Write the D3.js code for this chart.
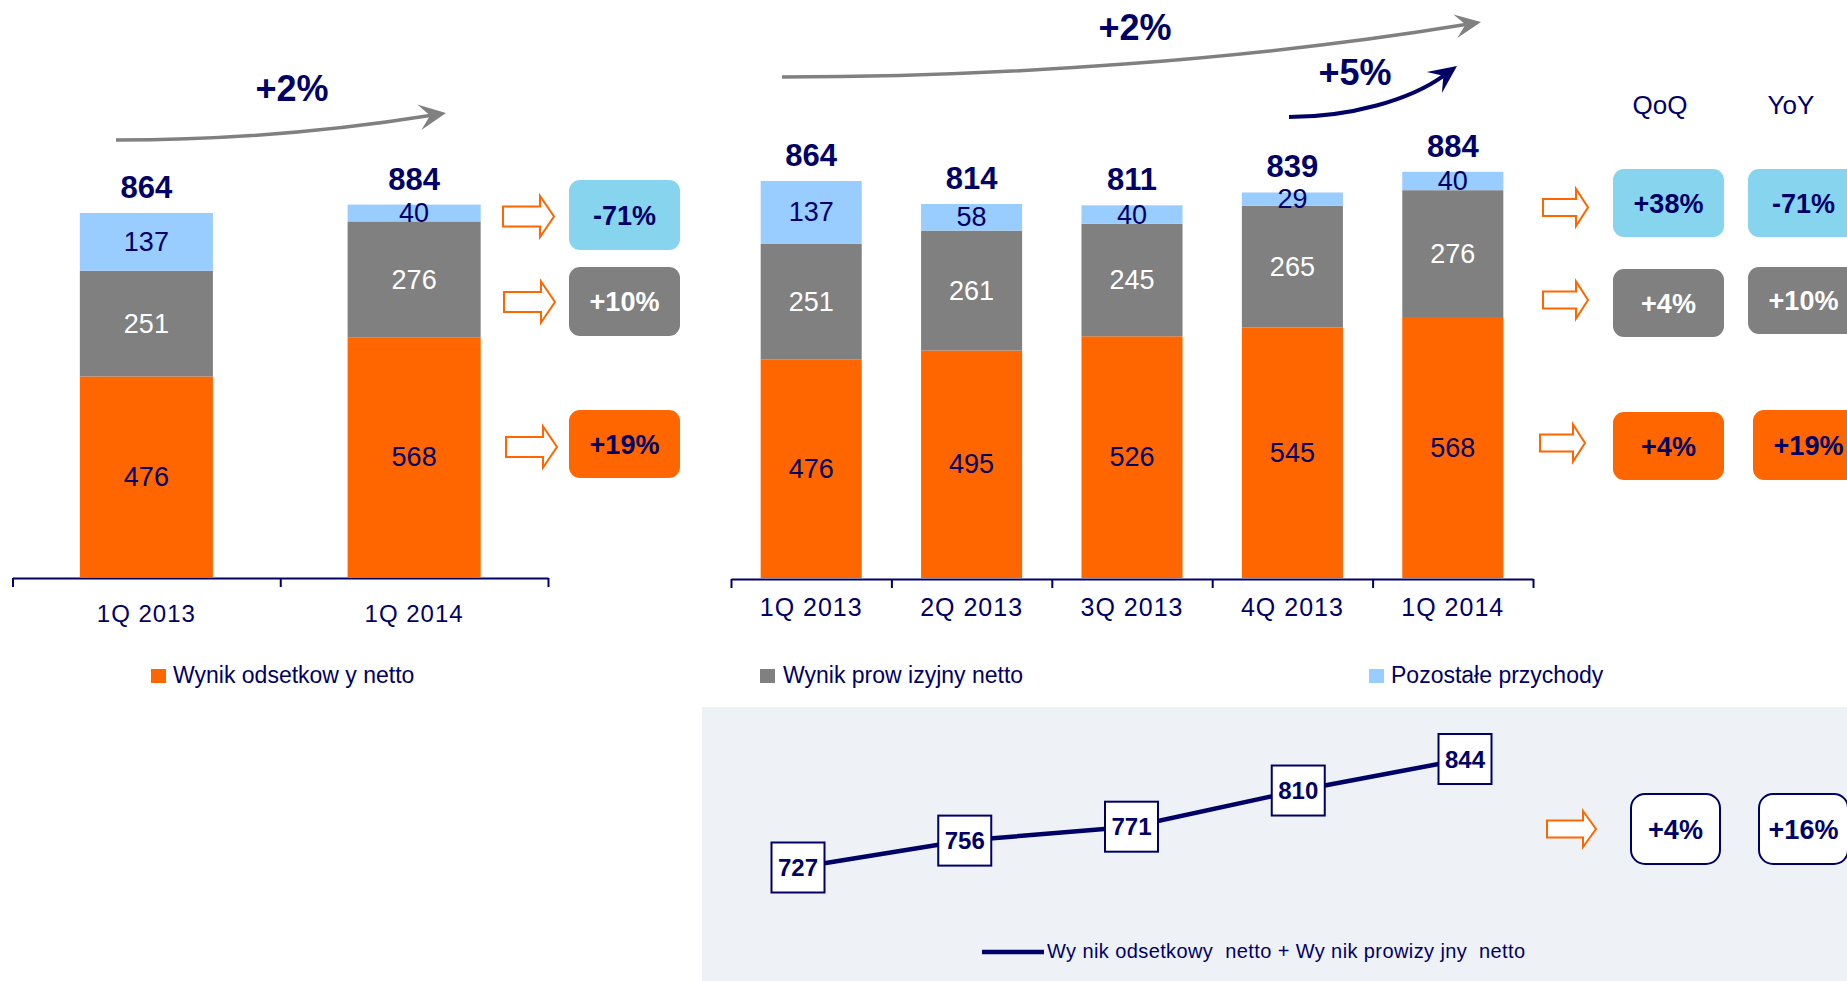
<!DOCTYPE html>
<html>
<head>
<meta charset="utf-8">
<script src="https://cdn.jsdelivr.net/npm/d3@7"></script>
<style>
  html, body { margin: 0; padding: 0; background: #fff; }
  svg { display: block; font-family: "Liberation Sans", Arial, sans-serif; }
</style>
</head>
<body>
<div id="chart"></div>
<script>
// --- dane (mln zł) ---
const yearCats = ["1Q 2013", "1Q 2014"];
const yearNii = [476, 568];
const yearFee = [251, 276];
const yearOther = [137, 40];
const yearGrowth = "+2%";
const yearYoY = ["-71%", "+10%", "+19%"]; // pozostałe, prowizje, odsetki

const quarters = ["1Q 2013", "2Q 2013", "3Q 2013", "4Q 2013", "1Q 2014"];
const qNii = [476, 495, 526, 545, 568];
const qFee = [251, 261, 245, 265, 276];
const qOther = [137, 58, 40, 29, 40];
const qGrowthYoY = "+2%";
const qGrowthQoQ = "+5%";
const changeHeads = ["QoQ", "YoY"];
const qoq = ["+38%", "+4%", "+4%"];
const yoy = ["-71%", "+10%", "+19%"];

const coreIncome = [727, 756, 771, 810, 844];
const coreChange = ["+4%", "+16%"];

const seriesNames = ["Wynik odsetkow y netto", "Wynik prow izyjny netto", "Pozostałe przychody"];
const lineName = "Wy nik odsetkowy  netto + Wy nik prowizy jny  netto";

// --- kolory ---
const NAVY = "#000066";
const ORANGE = "#FF6600";
const GRAY = "#808080";
const LIGHT = "#99CCFF";
const CYAN = "#87D4EE";
const PANEL = "#EEF2F6";

const keys = ["nii", "fee", "other"];
const segFill = { nii: ORANGE, fee: GRAY, other: LIGHT };
const segText = { nii: NAVY, fee: "#fff", other: NAVY };

const W = 1847, H = 981;
const svg = d3.select("#chart").append("svg")
  .attr("width", W)
  .attr("height", H)
  .attr("viewBox", [0, 0, W, H]);

// panel pod wykresem liniowym
svg.append("rect")
  .attr("x", 702).attr("y", 707)
  .attr("width", W - 702).attr("height", H - 707)
  .attr("fill", PANEL);

/**
 * Słupki skumulowane z osią kategorii
 */
function drawStack(cats, nii, fee, other, o) {
  const rows = cats.map((c, i) => ({ cat: c, nii: nii[i], fee: fee[i], other: other[i] }));
  const stacked = d3.stack().keys(keys)(rows);

  const x = d3.scaleBand().domain(cats).range(o.xRange);
  const y = d3.scaleLinear().domain([0, 1000]).range([o.base, o.base - o.pxPerUnit * 1000]);
  const bw = x.bandwidth() * o.barRatio;
  const bx = d => x(d.data.cat) + (x.bandwidth() - bw) / 2;

  const g = svg.append("g");

  g.selectAll("g.layer")
    .data(stacked)
    .join("g")
    .attr("fill", s => segFill[s.key])
    .selectAll("rect")
    .data(s => s)
    .join("rect")
    .attr("x", bx)
    .attr("width", bw)
    .attr("y", d => y(d[1]))
    .attr("height", d => y(d[0]) - y(d[1]));

  // etykiety segmentów
  stacked.forEach(s => {
    g.selectAll(null)
      .data(s)
      .join("text")
      .attr("x", d => x(d.data.cat) + x.bandwidth() / 2)
      .attr("y", d => (y(d[0]) + y(d[1])) / 2 + 9)
      .attr("text-anchor", "middle")
      .attr("font-size", 27)
      .attr("fill", segText[s.key])
      .text(d => d.data[s.key]);
  });

  // sumy
  g.selectAll(null)
    .data(rows)
    .join("text")
    .attr("x", d => x(d.cat) + x.bandwidth() / 2)
    .attr("y", d => y(d.nii + d.fee + d.other) - 15)
    .attr("text-anchor", "middle")
    .attr("font-size", 31)
    .attr("font-weight", "bold")
    .attr("fill", NAVY)
    .text(d => d.nii + d.fee + d.other);

  // oś z kreskami na granicach kategorii
  const xi = d3.scaleLinear().domain([0, cats.length]).range(o.xRange);
  const ax = g.append("g")
    .attr("transform", `translate(0,${o.base + 1})`)
    .call(d3.axisBottom(xi).tickValues(d3.range(cats.length + 1)).tickSize(9).tickSizeOuter(0).tickFormat(""));
  ax.selectAll("path, line").attr("stroke", NAVY).attr("stroke-width", 2);

  g.selectAll(null)
    .data(cats)
    .join("text")
    .attr("x", c => x(c) + x.bandwidth() / 2)
    .attr("y", o.labelY)
    .attr("text-anchor", "middle")
    .attr("font-size", o.catSize)
    .attr("letter-spacing", 1)
    .attr("fill", NAVY)
    .text(c => c);

  return { x, y };
}

drawStack(yearCats, yearNii, yearFee, yearOther, {
  xRange: [12.5, 548], base: 577, pxPerUnit: 0.4213, barRatio: 0.497, labelY: 622, catSize: 24
});
drawStack(quarters, qNii, qFee, qOther, {
  xRange: [731, 1533], base: 578, pxPerUnit: 0.4595, barRatio: 0.63, labelY: 616, catSize: 25
});

// --- strzałki zakrzywione ---
function curvedArrow(p0, c1, c2, p1, color, width, headLen, half) {
  const dx = p1[0] - c2[0], dy = p1[1] - c2[1];
  const l = Math.hypot(dx, dy);
  const ux = dx / l, uy = dy / l, nx = -uy, ny = ux;
  const notch = [p1[0] - ux * headLen * 0.6, p1[1] - uy * headLen * 0.6];
  const back = [p1[0] - ux * headLen, p1[1] - uy * headLen];

  const p = d3.path();
  p.moveTo(p0[0], p0[1]);
  p.bezierCurveTo(c1[0], c1[1], c2[0], c2[1], notch[0], notch[1]);
  svg.append("path")
    .attr("d", p.toString())
    .attr("fill", "none")
    .attr("stroke", color)
    .attr("stroke-width", width);

  const h = d3.path();
  h.moveTo(p1[0], p1[1]);
  h.lineTo(back[0] + nx * half, back[1] + ny * half);
  h.lineTo(notch[0], notch[1]);
  h.lineTo(back[0] - nx * half, back[1] - ny * half);
  h.closePath();
  svg.append("path").attr("d", h.toString()).attr("fill", color);
}

curvedArrow([116, 140], [230, 140], [340, 130], [446, 113], GRAY, 3.5, 27, 13);
curvedArrow([782, 77], [1000, 77], [1250, 60], [1481, 22], GRAY, 3.5, 26, 12);
curvedArrow([1289, 117], [1350, 117], [1410, 100], [1457, 66], NAVY, 4, 28, 13);

function growthLabel(txt, cx, by) {
  svg.append("text")
    .attr("x", cx).attr("y", by)
    .attr("text-anchor", "middle")
    .attr("font-size", 36)
    .attr("font-weight", "bold")
    .attr("fill", NAVY)
    .text(txt);
}
growthLabel(yearGrowth, 292, 101);
growthLabel(qGrowthYoY, 1135, 40);
growthLabel(qGrowthQoQ, 1355, 85);

// --- strzałki blokowe (kontur) ---
function blockArrow(x0, yc, len, hgt, shaft, headLen) {
  const xh = x0 + len - headLen;
  const pts = [
    [x0, yc - shaft / 2], [xh, yc - shaft / 2], [xh, yc - hgt / 2],
    [x0 + len, yc], [xh, yc + hgt / 2], [xh, yc + shaft / 2], [x0, yc + shaft / 2]
  ];
  svg.append("path")
    .attr("d", d3.line()(pts) + "Z")
    .attr("fill", "#fff")
    .attr("stroke", ORANGE)
    .attr("stroke-width", 2);
}

// --- pola ze zmianą ---
function badge(x0, y0, w, h, fill, txt, color, stroke) {
  svg.append("rect")
    .attr("x", x0).attr("y", y0)
    .attr("width", w).attr("height", h)
    .attr("rx", stroke ? 14 : 11)
    .attr("fill", fill)
    .attr("stroke", stroke || "none")
    .attr("stroke-width", stroke ? 2 : 0);
  svg.append("text")
    .attr("x", x0 + w / 2).attr("y", y0 + h / 2 + 9.5)
    .attr("text-anchor", "middle")
    .attr("font-size", 27)
    .attr("font-weight", "bold")
    .attr("fill", color)
    .text(txt);
}

const boxFill = [CYAN, GRAY, ORANGE];
const boxText = [NAVY, "#fff", NAVY];

// lewy wykres: YoY
const leftRows = [[180, 250], [267, 336], [410, 478]];
const leftArrows = [[503, 216.5], [504, 302], [506, 447]];
leftRows.forEach((r, i) => {
  blockArrow(leftArrows[i][0], leftArrows[i][1], 51, 41, 20, 14);
  badge(569, r[0], 111, r[1] - r[0], boxFill[i], yearYoY[i], boxText[i]);
});

// prawa strona: QoQ / YoY
svg.selectAll(null)
  .data(changeHeads)
  .join("text")
  .attr("x", (d, i) => [1660, 1791][i])
  .attr("y", 114)
  .attr("text-anchor", "middle")
  .attr("font-size", 26)
  .attr("fill", NAVY)
  .text(d => d);

const qoqRows = [[169, 237], [269, 337], [412, 480]];
const yoyRows = [[169, 237], [267, 334], [410, 480]];
const rightArrows = [[1543, 207.5], [1543, 300], [1540, 443]];
qoqRows.forEach((r, i) => {
  blockArrow(rightArrows[i][0], rightArrows[i][1], 45, 37, 17, 12);
  badge(1613, r[0], 111, r[1] - r[0], boxFill[i], qoq[i], boxText[i]);
  badge(i === 2 ? 1753 : 1748, yoyRows[i][0], 111, yoyRows[i][1] - yoyRows[i][0], boxFill[i], yoy[i], boxText[i]);
});

// --- legenda ---
const legendPos = [[151, 173], [760, 783], [1369, 1391]];
const legendFill = [ORANGE, GRAY, LIGHT];
seriesNames.forEach((name, i) => {
  svg.append("rect")
    .attr("x", legendPos[i][0]).attr("y", 669)
    .attr("width", 15).attr("height", 14)
    .attr("fill", legendFill[i]);
  svg.append("text")
    .attr("x", legendPos[i][1]).attr("y", 683)
    .attr("font-size", 23)
    .attr("fill", NAVY)
    .text(name);
});

// --- wykres liniowy: wynik odsetkowy + prowizyjny ---
const lx = d3.scalePoint().domain(quarters).range([798, 1465]);
const ly = d3.scaleLinear().domain([727, 844]).range([867.5, 759]);
const lineData = quarters.map((q, i) => ({ q, v: coreIncome[i] }));

svg.append("path")
  .datum(lineData)
  .attr("fill", "none")
  .attr("stroke", NAVY)
  .attr("stroke-width", 4.5)
  .attr("d", d3.line().x(d => lx(d.q)).y(d => ly(d.v)));

const pts = svg.selectAll("g.pt")
  .data(lineData)
  .join("g")
  .attr("transform", d => `translate(${lx(d.q)},${ly(d.v)})`);
pts.append("rect")
  .attr("x", -26.5).attr("y", -25)
  .attr("width", 53).attr("height", 50)
  .attr("fill", "#fff")
  .attr("stroke", NAVY)
  .attr("stroke-width", 2);
pts.append("text")
  .attr("y", 8.5)
  .attr("text-anchor", "middle")
  .attr("font-size", 24)
  .attr("font-weight", "bold")
  .attr("fill", NAVY)
  .text(d => d.v);

blockArrow(1547, 829, 49, 36, 17, 13);
badge(1631, 794, 89, 70, "#fff", coreChange[0], NAVY, NAVY);
badge(1759, 794, 89, 70, "#fff", coreChange[1], NAVY, NAVY);

// legenda linii
svg.append("line")
  .attr("x1", 982).attr("x2", 1044)
  .attr("y1", 952).attr("y2", 952)
  .attr("stroke", NAVY)
  .attr("stroke-width", 4.5);
svg.append("text")
  .attr("x", 1047).attr("y", 958)
  .attr("font-size", 20)
  .attr("letter-spacing", 0.4)
  .attr("fill", NAVY)
  .style("white-space", "pre")
  .text(lineName);
</script>
</body>
</html>
